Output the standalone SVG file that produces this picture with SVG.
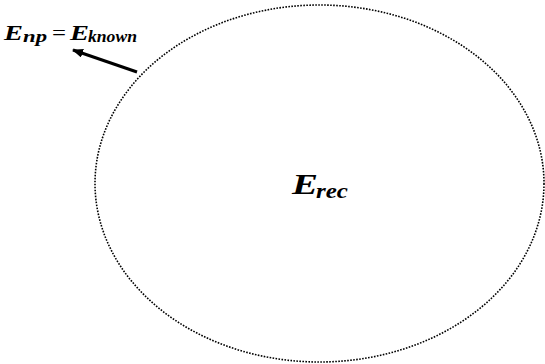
<svg xmlns="http://www.w3.org/2000/svg" width="545" height="364" viewBox="0 0 545 364">
<style>
.m{font-family:"Liberation Serif","DejaVu Serif",serif;font-weight:bold;font-style:italic;fill:#000}
.eq{font-family:"Liberation Serif","DejaVu Serif",serif;fill:#000}
</style>
<defs>
<marker id="ah" markerWidth="11" markerHeight="9" refX="10" refY="4.5" orient="auto" markerUnits="userSpaceOnUse"><path d="M0,0 L11,4.5 L0,9 z" fill="#000"/></marker>
</defs>
<rect width="545" height="364" fill="#fff"/>
<g id="rec">
<ellipse cx="319.5" cy="183.5" rx="224.5" ry="178.5" fill="none" stroke="#000" stroke-width="1.6" stroke-dasharray="1.6 1.4"/>
<text class="m" x="292" y="194" font-size="30" textLength="26" lengthAdjust="spacingAndGlyphs">E</text>
<text class="m" x="316" y="198" font-size="21" textLength="32" lengthAdjust="spacingAndGlyphs">rec</text>
</g>
<g id="known">
<text class="m" x="4" y="40" font-size="22" textLength="19" lengthAdjust="spacingAndGlyphs">E</text>
<text class="m" x="23" y="42" font-size="17" textLength="24" lengthAdjust="spacingAndGlyphs">np</text>
<text class="eq" x="52" y="40" font-size="22" textLength="14" lengthAdjust="spacingAndGlyphs">=</text>
<text class="m" x="70" y="39.5" font-size="22" textLength="19" lengthAdjust="spacingAndGlyphs">E</text>
<text class="m" x="88" y="41.5" font-size="17" textLength="49" lengthAdjust="spacingAndGlyphs">known</text>
</g>
<g id="connectors">
<line x1="137" y1="72" x2="73" y2="50" stroke="#000" stroke-width="3" marker-end="url(#ah)"/>
</g>
</svg>
